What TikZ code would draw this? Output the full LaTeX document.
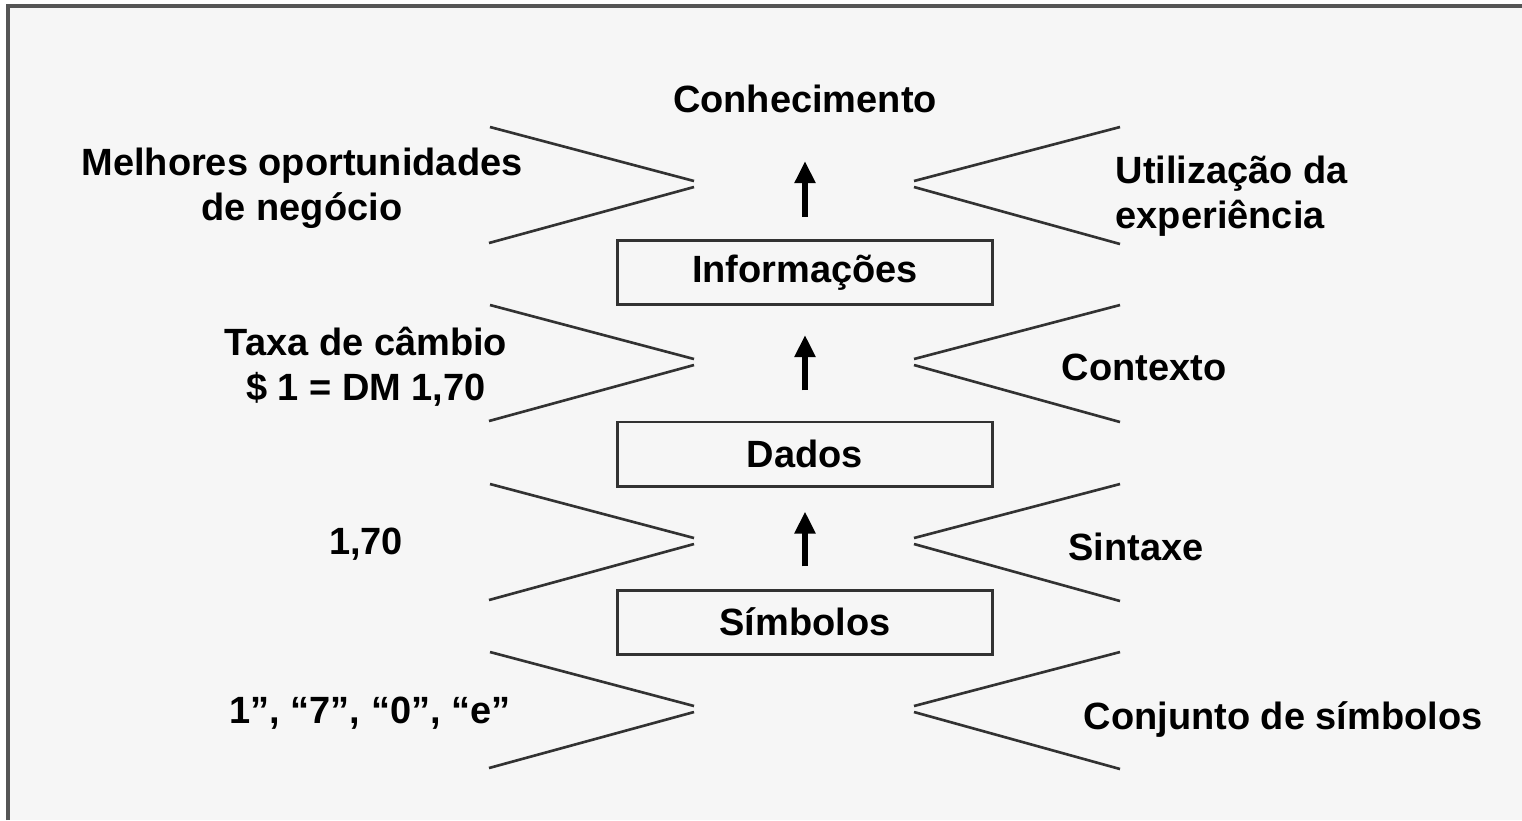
\documentclass[tikz,border=0pt]{standalone}
\usepackage{fontspec}
\setmainfont{Liberation Sans}
\usepackage{tikz}
\usetikzlibrary{arrows.meta}
\tikzstyle{diagram} = [x = 0.01cm, y = -0.01cm]
\definecolor{frameColor}{RGB}{85,85,85}
\definecolor{lineColor}{RGB}{50,50,50}
\definecolor{paperColor}{RGB}{246,246,246}
\tikzstyle{frameLine} = [color=frameColor, line width=0.9pt]
\tikzstyle{wedgeLine} = [color=lineColor, line width=0.75pt]
\tikzstyle{levelBox} = [draw=lineColor, line width=0.85pt, minimum width=3.74cm, minimum height=0.64cm, inner sep=0pt, font=\fontsize{10.8}{12.8}\selectfont\bfseries]
\tikzstyle{labelText} = [font=\fontsize{10.8}{12.8}\selectfont\bfseries, align=center, inner sep=0pt]
\tikzstyle{upArrow} = [-{Triangle[width=0.2cm, length=0.22cm]}, line width=1.5pt, color=black]
\newcommand{\leftWedge}[1]{\draw [wedgeLine] (490, #1) -- (694, #1 + 54) (694, #1 + 60) -- (489, #1 + 116);}
\newcommand{\rightWedge}[1]{\draw [wedgeLine] (1120, #1) -- (914, #1 + 54) (914, #1 + 60) -- (1120, #1 + 117);}
\begin{document}
\begin{tikzpicture}[diagram]
  \useasboundingbox (0,0) rectangle (1522,820);
  \fill [paperColor] (8,6) rectangle (1522,820);
  \draw [frameLine] (8,820) -- (8,6) -- (1522,6);

  \node [labelText, anchor=base] (conhecimento) at (805,112) {Conhecimento};
  \node [levelBox] (informacoes) at (805,272.5) {Informações};
  \node [levelBox] (dados) at (805,454) {Dados};
  \node [levelBox] (simbolos) at (805,622) {Símbolos};

  \draw [upArrow, shorten <=0.22cm, shorten >=0.48cm] (informacoes.north) -- (conhecimento.south);
  \draw [upArrow, shorten <=0.30cm, shorten >=0.29cm] (dados.north) -- (informacoes.south);
  \draw [upArrow, shorten <=0.22cm, shorten >=0.24cm] (simbolos.north) -- (dados.south);

  \foreach \top in {127,305,484,652} {
    \leftWedge{\top}
    \rightWedge{\top}
  }

  \node [labelText] (oportunidades) at (302,188) {Melhores oportunidades\\de negócio};
  \node [labelText, anchor=west, align=left] (experiencia) at (1115,196) {Utilização da\\experiência};
  \node [labelText] (cambio) at (366,367) {Taxa de câmbio\\\$ 1 = DM 1,70};
  \node [labelText] (contexto) at (1144,367) {Contexto};
  \node [labelText] (valor) at (366,544) {1,70};
  \node [labelText] (sintaxe) at (1136,547) {Sintaxe};
  \node [labelText] (caracteres) at (370,713) {1”, “7”, “0”, “e”};
  \node [labelText] (conjunto) at (1283,719) {Conjunto de símbolos};
\end{tikzpicture}
\end{document}
